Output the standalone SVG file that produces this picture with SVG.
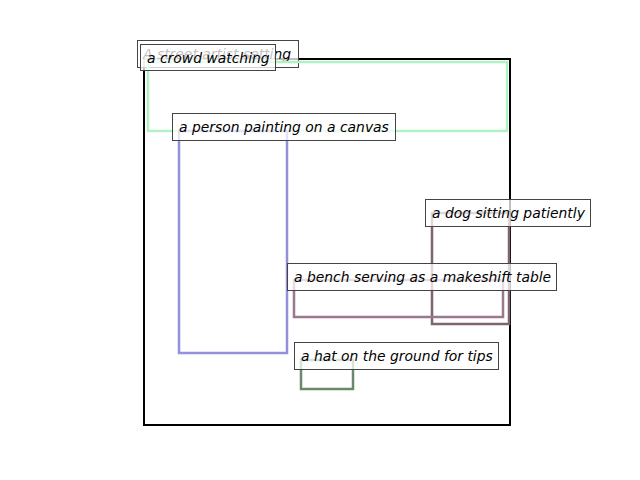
<svg xmlns="http://www.w3.org/2000/svg" width="640" height="480" viewBox="0 0 640 480">
<style>
.box{fill:none;stroke-width:2.5}
.lbl rect{fill:#ffffff;fill-opacity:0.75;stroke:#444;stroke-width:1}
.lbl text{font-family:"DejaVu Sans",sans-serif;font-style:italic;font-size:13.9px;fill:#000}
</style>
<rect width="640" height="480" fill="#fff"/>
<g id="connectors"></g>
<g id="scene">
<rect x="144" y="59" width="366" height="366" fill="none" stroke="#000" stroke-width="2"/>
</g>
<g id="scene-label" class="lbl">
<rect x="137.5" y="40.5" width="161" height="27"/>
<text x="143" y="59">A street artist setting</text>
</g>
<g id="crowd">
<rect class="box" x="148" y="62" width="359" height="69" stroke="#b0f2c4"/>
</g>
<g id="crowd-label" class="lbl">
<rect x="140.5" y="44.5" width="135" height="26"/>
<text x="147" y="62.5">a crowd watching</text>
</g>
<g id="person">
<rect class="box" x="179" y="131" width="108" height="222" stroke="#9590dc"/>
</g>
<g id="person-label" class="lbl">
<rect x="172.5" y="113.5" width="223" height="27"/>
<text x="179" y="131.5">a person painting on a canvas</text>
</g>
<g id="dog">
<rect class="box" x="432" y="213" width="77" height="111" stroke="#7c6470"/>
</g>
<g id="dog-label" class="lbl">
<rect x="425.5" y="199.5" width="165" height="27"/>
<text x="432" y="217.5">a dog sitting patiently</text>
</g>
<g id="bench">
<rect class="box" x="294" y="280" width="209" height="37" stroke="#9c7890"/>
</g>
<g id="bench-label" class="lbl">
<rect x="287.5" y="263.5" width="269" height="27"/>
<text x="294" y="281.5">a bench serving as a makeshift table</text>
</g>
<g id="hat">
<rect class="box" x="301" y="360" width="52" height="29" stroke="#6a8a6c"/>
</g>
<g id="hat-label" class="lbl">
<rect x="294.5" y="342.5" width="204" height="27"/>
<text x="301" y="360.5">a hat on the ground for tips</text>
</g>
</svg>
